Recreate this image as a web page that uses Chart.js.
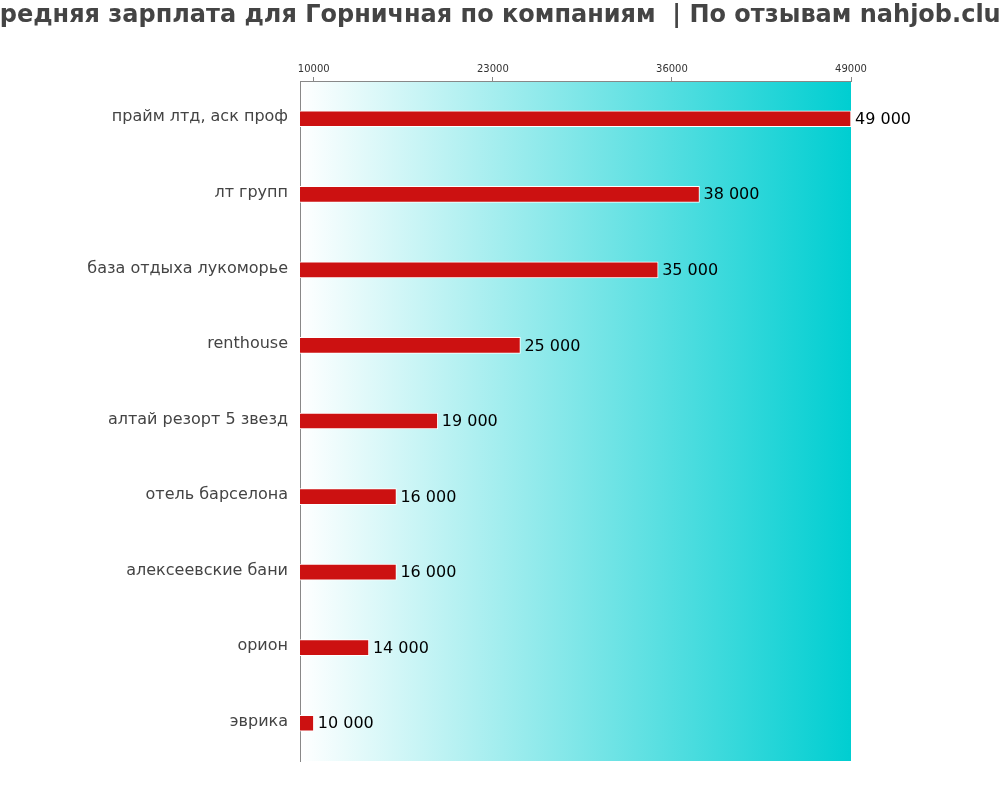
<!DOCTYPE html>
<html>
<head>
<meta charset="utf-8">
<script src="https://cdn.jsdelivr.net/npm/chart.js@4/dist/chart.umd.min.js"></script>
<style>
html,body{margin:0;padding:0;background:#fff;}
canvas{display:block;}
</style>
</head>
<body>
<canvas id="c" width="1000" height="800"></canvas>
<script>
const titleText = "Средняя зарплата для Горничная по компаниям  | По отзывам nahjob.club";
const categories = ["прайм лтд, аск проф","лт групп","база отдыха лукоморье","renthouse","алтай резорт 5 звезд","отель барселона","алексеевские бани","орион","эврика"];
const salaries = [49000,38000,35000,25000,19000,16000,16000,14000,10000];
const tickValues = [10000,23000,36000,49000];
const axisMin = 9000;
const axisMax = 49000;

function fmt(v){ return String(v).replace(/\B(?=(\d{3})+(?!\d))/g, " "); }

const bgPlugin = {
  id: 'bg',
  beforeDraw(chart){
    const {ctx, chartArea:a} = chart;
    const g = ctx.createLinearGradient(a.left,0,a.right,0);
    g.addColorStop(0,'#ffffff');
    g.addColorStop(1,'#00ced1');
    ctx.save();
    ctx.fillStyle = g;
    ctx.fillRect(a.left,a.top,a.right-a.left,a.bottom-a.top);
    ctx.restore();
  },
  afterDraw(chart){
    const ctx = chart.ctx;
    ctx.save();
    ctx.font = 'bold 24px "DejaVu Sans"';
    ctx.fillStyle = '#444444';
    ctx.textAlign = 'center';
    ctx.textBaseline = 'middle';
    ctx.fillText(titleText, 500, 16);
    const meta = chart.getDatasetMeta(0);
    ctx.font = '16px "DejaVu Sans"';
    ctx.fillStyle = '#000000';
    ctx.textAlign = 'left';
    meta.data.forEach((bar,i)=>{
      ctx.fillText(fmt(salaries[i]), bar.x + 4, bar.y + 1);
    });
    ctx.restore();
  }
};

new Chart(document.getElementById('c'), {
  type: 'bar',
  data: {
    labels: categories,
    datasets: [{
      data: salaries,
      backgroundColor: '#cc1111',
      borderColor: '#ffffff',
      borderWidth: 1,
      barThickness: 16
    }]
  },
  options: {
    indexAxis: 'y',
    responsive: false,
    animation: false,
    layout: { padding: { left: 0, right: 149, top: 0, bottom: 39 } },
    plugins: { legend: { display: false }, tooltip: { enabled: false }, title: { display: false } },
    scales: {
      x: {
        position: 'top',
        min: axisMin,
        max: axisMax,
        afterBuildTicks(scale){ scale.ticks = tickValues.map(v=>({value:v})); },
        afterFit(scale){ scale.height = 81; },
        grid: { drawOnChartArea: false, drawTicks: true, tickLength: 4, color: '#888888' },
        border: { display: true, color: '#888888' },
        ticks: { font: { family: 'DejaVu Sans', size: 10 }, color: '#333333', padding: 2, maxRotation: 0, autoSkip: false, callback: v => String(v) }
      },
      y: {
        afterFit(scale){ scale.width = 300; },
        grid: { display: false, tickLength: 0 },
        border: { display: true, color: '#888888' },
        ticks: { font: { family: 'DejaVu Sans', size: 16 }, color: '#444444', padding: 12, labelOffset: -1.5 }
      }
    }
  },
  plugins: [bgPlugin]
});
</script>
</body>
</html>
